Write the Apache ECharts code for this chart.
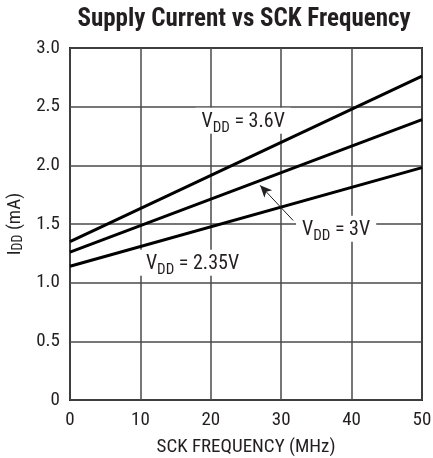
<!DOCTYPE html>
<html>
<head>
<meta charset="utf-8">
<script src="https://cdn.jsdelivr.net/npm/echarts@6/dist/echarts.min.js"></script>
<style>
  html, body { margin: 0; padding: 0; background: #fff; }
  #chart { width: 433px; height: 458px; }
</style>
</head>
<body>
<div id="chart"></div>
<script>
// SCK frequency (MHz) and supply current (mA) for each VDD
const freq = [0, 50];
const idd360 = [1.35, 2.76];
const idd300 = [1.26, 2.39];
const idd235 = [1.14, 1.98];

// label anchors in data coords
const lbl360 = [24.6, 2.38];
const lbl300 = [37.8, 1.46];
const lbl235 = [17.4, 1.17];
const arrowFrom = [31.7, 1.53];
const arrowTo = [27.0, 1.83];

const FONT = '"Liberation Sans Narrow", "Roboto Condensed", "Liberation Sans", sans-serif';
const INK = '#231f20';

function pairs(ys) {
  return freq.map((f, i) => [f, ys[i]]);
}

function vddLabel(coord, text) {
  return {
    coord: coord,
    symbol: 'circle',
    symbolSize: 1,
    itemStyle: { color: 'rgba(0,0,0,0)' },
    label: {
      show: true,
      position: 'inside',
      formatter: '{a|V}{b|DD}{a| = ' + text + '}',
      backgroundColor: '#fff',
      padding: [2, 6, 2, 6],
      rich: {
        a: { fontFamily: FONT, fontSize: 20, color: INK, verticalAlign: 'bottom', lineHeight: 22 },
        b: { fontFamily: FONT, fontSize: 15, color: INK, verticalAlign: 'bottom', lineHeight: 16, padding: [0, 0, -4, 0] }
      }
    }
  };
}

const chart = echarts.init(document.getElementById('chart'));

const option = {
  animation: false,
  title: {
    text: 'Supply Current vs SCK Frequency',
    left: 239,
    textAlign: 'center',
    top: 2,
    textStyle: { fontFamily: FONT, fontWeight: 'bold', fontSize: 25, color: INK }
  },
  grid: {
    left: 70, right: 11, top: 48, bottom: 58,
    outerBoundsMode: 'none',
    containLabel: false,
    show: true, borderColor: INK, borderWidth: 2
  },
  xAxis: {
    type: 'value',
    min: 0, max: 50, interval: 10,
    name: 'SCK FREQUENCY (MHz)',
    nameLocation: 'middle',
    nameGap: 38,
    nameTextStyle: { fontFamily: FONT, fontSize: 19, color: INK },
    axisLine: { show: false },
    axisTick: { show: false },
    axisLabel: { fontFamily: FONT, fontSize: 19, color: INK, margin: 11 },
    splitLine: { show: true, lineStyle: { color: '#4a4a4a', width: 1.5 } }
  },
  yAxis: {
    type: 'value',
    min: 0, max: 3, interval: 0.5,
    name: 'I{s|DD} (mA)',
    nameLocation: 'middle',
    nameGap: 44,
    nameTextStyle: {
      fontFamily: FONT, fontSize: 19, color: INK,
      rich: { s: { fontFamily: FONT, fontSize: 14, color: INK, padding: [7, 0, 0, 0] } }
    },
    axisLine: { show: false },
    axisTick: { show: false },
    axisLabel: {
      fontFamily: FONT, fontSize: 19, color: INK, margin: 10,
      formatter: v => (v === 0 ? '0' : v.toFixed(1))
    },
    splitLine: { show: true, lineStyle: { color: '#4a4a4a', width: 1.5 } }
  },
  series: [
    {
      type: 'line', data: pairs(idd360), symbol: 'none',
      lineStyle: { color: '#000', width: 3 }, z: 3
    },
    {
      type: 'line', data: pairs(idd300), symbol: 'none',
      lineStyle: { color: '#000', width: 3 }, z: 3
    },
    {
      type: 'line', data: pairs(idd235), symbol: 'none',
      lineStyle: { color: '#000', width: 3 }, z: 3,
      markLine: {
        silent: true,
        symbol: ['none', 'arrow'],
        symbolSize: [8, 12],
        label: { show: false },
        lineStyle: { color: INK, width: 1, type: 'solid' },
        data: [[{ coord: arrowFrom }, { coord: arrowTo }]]
      },
      markPoint: {
        silent: true,
        data: [
          vddLabel(lbl360, '3.6V'),
          vddLabel(lbl300, '3V'),
          vddLabel(lbl235, '2.35V')
        ]
      }
    }
  ]
};

chart.setOption(option);
</script>
</body>
</html>
